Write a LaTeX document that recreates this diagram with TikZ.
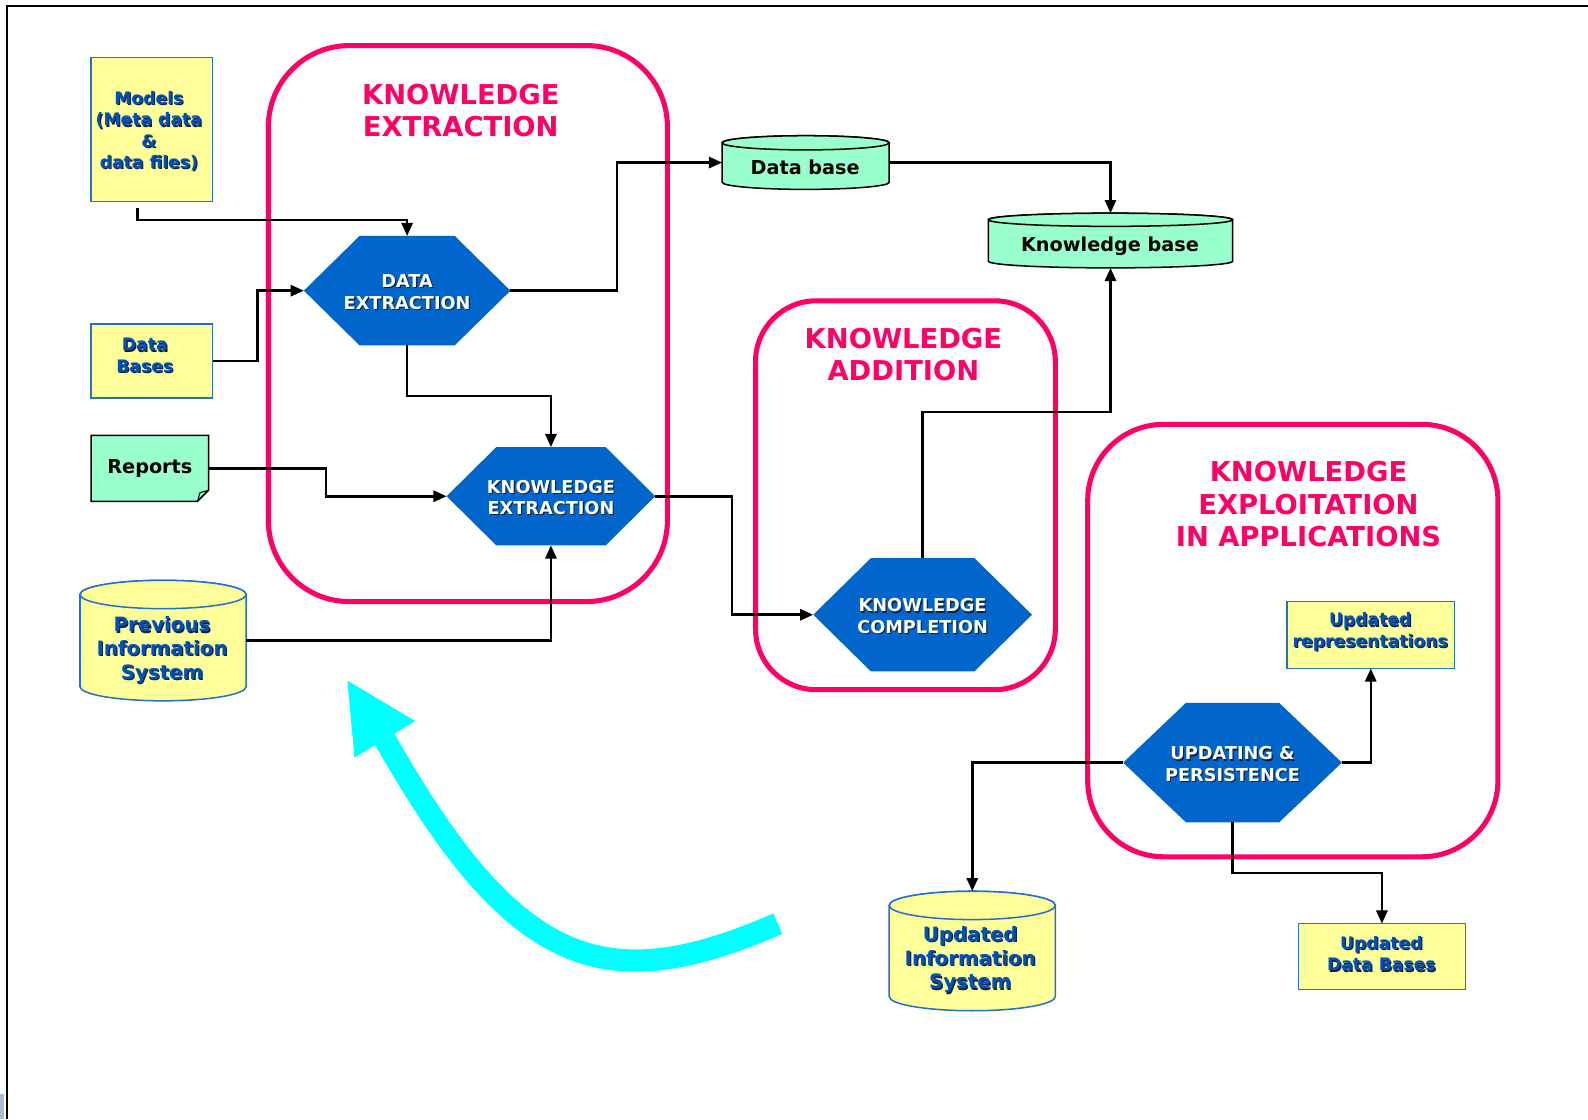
\documentclass[tikz,border=0pt]{standalone}
\usepackage{fontspec}
\setmainfont{DejaVu Sans}
\usetikzlibrary{arrows.meta}

\definecolor{pinkframe}{HTML}{FF0066}
\definecolor{hexblue}{HTML}{0066CC}
\definecolor{paleyellow}{HTML}{FFFF99}
\definecolor{mint}{HTML}{99FFCC}
\definecolor{boxblue}{HTML}{2370D0}
\definecolor{inkblue}{HTML}{0052B8}
\definecolor{shade}{HTML}{102040}
\definecolor{flow}{HTML}{00FFFF}
\definecolor{edgegray}{HTML}{A9BCD0}

% text with a small dark drop shadow
\newcommand\sh[1]{\leavevmode\rlap{\kern1.2pt\raisebox{-1.2pt}{\color{shade}#1}}#1}

% hexagon: name, centre x, centre y, width, height, slant, text
\newcommand\hexa[7]{%
  \fill[hexfill] ({#2-#4/2},#3) -- ({#2-#4/2+#6},{#3-#5/2}) -- ({#2+#4/2-#6},{#3-#5/2})
     -- ({#2+#4/2},#3) -- ({#2+#4/2-#6},{#3+#5/2}) -- ({#2-#4/2+#6},{#3+#5/2}) -- cycle;
  \node[anchorbox, minimum width=#4pt, minimum height=#5pt] (#1) at (#2,#3) {};
  \node[hextext] (#1Text) at (#2,{#3+2}) {#7};}

% cylinder: name, centre x, x radius, top ellipse y, bottom ellipse y, ellipse half height, style
\newcommand\cyl[7]{%
  \path[#7] ({#2-#3},#4) -- ({#2-#3},#5) arc[start angle=180,end angle=0,x radius=#3,y radius=#6]
     -- ({#2+#3},#4) arc[start angle=0,end angle=-180,x radius=#3,y radius=#6] -- cycle;
  \path[#7] (#2,#4) ellipse[x radius=#3,y radius=#6];
  \node[anchorbox, minimum width={2*#3pt}, minimum height={(#5-#4+2*#6)*1pt}] (#1) at (#2,{(#4+#5)/2}) {};}

\tikzset{
  pinkbox/.style={draw=pinkframe, line width=5pt, rounded corners=#1},
  title/.style={text=pinkframe, font=\bfseries\fontsize{27}{32}\selectfont, align=center, inner sep=0},
  hexfill/.style={fill=hexblue},
  hextext/.style={text=white, font=\bfseries\fontsize{17.5}{21}\selectfont, align=center, inner sep=0},
  ybox/.style={draw=boxblue, line width=1.5pt, fill=paleyellow, inner sep=0, outer sep=0},
  mintcyl/.style={draw=black, line width=1.5pt, fill=mint},
  yellowcyl/.style={draw=boxblue, line width=1.5pt, fill=paleyellow},
  anchorbox/.style={draw=none, inner sep=0, outer sep=0},
  bluetext/.style={text=inkblue, font=\bfseries\fontsize{17}{21}\selectfont, align=center, inner sep=0},
  bigblue/.style={text=inkblue, font=\bfseries\fontsize{19.5}{23.3}\selectfont, align=center, inner sep=0},
  blacktext/.style={text=black, font=\bfseries\fontsize{19}{23}\selectfont, inner sep=0},
  conn/.style={draw=black, line width=2.5pt, -{Triangle[length=13pt,width=11pt]}},
  flowband/.style={draw=flow, line width=22pt},
  rim/.style={draw=black, line width=1.5pt}
}

\begin{document}
\begin{tikzpicture}[x=1pt, y=-1pt]
\useasboundingbox (0,0) rectangle (1568,1105);
\fill[white] (0,0) rectangle (1568,1105);

% outer frame edges and margin strip
\draw[rim] (7,1105) -- (7,6) -- (1568,6);
\fill[edgegray] (0,1080) rectangle (4,1105);

% phase frames
\draw[pinkbox=80] (265,45) rectangle (659,594);
\draw[pinkbox=60] (746,297) rectangle (1042,681);
\draw[pinkbox=75] (1074,419) rectangle (1479,846);

\node[title] (tEx) at (455,109) {KNOWLEDGE\\EXTRACTION};
\node[title] (tAdd) at (892,350) {KNOWLEDGE\\ADDITION};
\node[title] (tExp) at (1292,498) {KNOWLEDGE\\EXPLOITATION\\IN APPLICATIONS};

% sources
\node[ybox, minimum width=120pt, minimum height=142pt] (models) at (150,128) {};
\node[bluetext] (modelsText) at (147,130) {\sh{Models}\\\sh{(Meta data}\\\sh{\&}\\\sh{data files)}};

\node[ybox, minimum width=120pt, minimum height=73pt] (dbs) at (150,356.5) {};
\node[bluetext] (dbsText) at (143,351.5) {\sh{Data}\\\sh{Bases}};

\fill[mint] (90,430) -- (206,430) -- (206,484) -- (195,495) -- (90,495) -- cycle;
\draw[black, line width=1.5pt, line join=miter] (90,430) -- (206,430) -- (206,484) -- (195,495) -- (90,495) -- cycle;
\draw[black, line width=1pt] (195,495) -- (197.5,486.5) -- (206,484);
\node[anchorbox, minimum width=116pt, minimum height=65pt] (rep) at (148,462.5) {};
\node[blacktext] (repText) at (148,462.5) {Reports};

\cyl{pis}{161}{82}{587}{678}{14}{yellowcyl}
\node[bigblue] (pisText) at (160,642.5) {\sh{Previous}\\\sh{Information}\\\sh{System}};

% stores
\cyl{db}{795.5}{82.5}{141}{180}{7}{mintcyl}
\node[blacktext] (dbText) at (795,165.5) {Data base};
\cyl{kb}{1096.5}{120.5}{217}{258}{6.5}{mintcyl}
\node[blacktext] (kbText) at (1096,243) {Knowledge base};

% processes
\hexa{de}{402}{287}{204}{108}{55}{\sh{DATA}\\\sh{EXTRACTION}}
\hexa{ke}{544}{490}{206}{97}{49}{\sh{KNOWLEDGE}\\\sh{EXTRACTION}}
\hexa{kc}{911}{607}{216}{112}{57}{\sh{KNOWLEDGE}\\\sh{COMPLETION}}
\hexa{up}{1217}{753}{216}{118}{62}{\sh{UPDATING \&}\\\sh{PERSISTENCE}}

% results
\node[ybox, minimum width=165pt, minimum height=66pt] (urep) at (1353.5,627) {};
\node[bluetext] (urepText) at (1353,624.5) {\sh{Updated}\\\sh{representations}};
\node[ybox, minimum width=165pt, minimum height=65pt] (udb) at (1364.5,944.5) {};
\node[bluetext] (udbText) at (1364,942.5) {\sh{Updated}\\\sh{Data Bases}};
\cyl{uis}{960}{82}{894}{984}{14}{yellowcyl}
\node[bigblue] (uisText) at (958,948.5) {\sh{Updated}\\\sh{Information}\\\sh{System}};

% flows
\draw[conn] ([xshift=-14pt,yshift=-6pt]models.south) -- ++(0,12) -| (de.north);
\draw[conn] (dbs.east) -- ++(44,0) |- (de.west);
\draw[conn] (de.east) -- ++(105,0) |- (db.west);
\draw[conn] (de.south) -- ++(0,50) -| (ke.north);
\draw[conn] (rep.east) -- ++(116,0) |- (ke.west);
\draw[conn] (pis.east) -| (ke.south);
\draw[conn] (ke.east) -- ++(76,0) |- (kc.west);
\draw[conn] (db.east) -| (kb.north);
\draw[conn] (kc.north) -- ++(0,-144) -| (kb.south);
\draw[conn] (up.west) -| (uis.north);
\draw[conn] (up.east) -| (urep.south);
\draw[conn] (up.south) -- ++(0,50) -| (udb.north);

% feedback loop
\draw[flowband] (768,912) .. controls (600,985) and (510,960) .. (380,730);
\fill[flow] (343,672) -- (350,748) -- (410,712) -- cycle;
\end{tikzpicture}
\end{document}
